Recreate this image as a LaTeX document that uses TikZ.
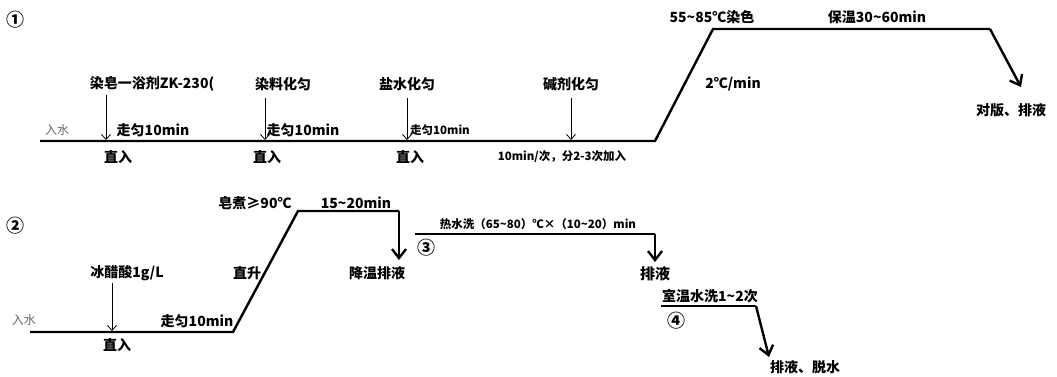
\documentclass[tikz,border=0pt]{standalone}
\usepackage{fontspec}
\setmainfont{Noto Sans CJK SC}
\usetikzlibrary{arrows.meta}

\begin{document}
\begin{tikzpicture}[x=1pt,y=-1pt,
        lab/.style={inner sep=0pt,font=\fontsize{14}{16}\selectfont\bfseries},
        small/.style={inner sep=0pt,font=\fontsize{11.5}{13}\selectfont\bfseries},
        gray/.style={inner sep=0pt,text=black!60,font=\fontsize{12}{14}\selectfont},
        num/.style={inner sep=0pt,font=\fontsize{18}{20}\selectfont\bfseries},
        proc/.style={line width=2.4pt,line join=miter},
        feed/.style={line width=0.8pt,-{Straight Barb[length=5pt,width=9pt]}},
        drain/.style={line width=2.4pt,-{Straight Barb[length=9pt,width=14pt,line width=2.4pt]}}]
        \useasboundingbox (0,0) rectangle (1057,376);
        % process 1
        \node[num](n1) at (15,20) {①};
        \coordinate(p1) at (40,141);
        \coordinate(p2) at (655,141);
        \coordinate(p3) at (713,29);
        \coordinate(p4) at (990,29);
        \coordinate(p5) at (1021,87);
        \draw[proc](p1)--(p2)--(p3)--(p4);
        \draw[drain](p4)--(p5);
        \node[gray](in1) at (57,130) {入水};
        \node[lab](d1) at (152,84) {染皂一浴剂ZK-230(};
        \node[lab](d2) at (283,84) {染料化匀};
        \node[lab](d3) at (407,84) {盐水化匀};
        \node[lab](d4) at (571,84) {碱剂化匀};
        \coordinate(a1) at (106,95);
        \coordinate(b1) at (106,140);
        \coordinate(a2) at (265,98);
        \coordinate(b2) at (265,140);
        \coordinate(a3) at (407,98);
        \coordinate(b3) at (407,140);
        \coordinate(a4) at (571,98);
        \coordinate(b4) at (571,140);
        \draw[feed](a1)--(b1);
        \draw[feed](a2)--(b2);
        \draw[feed](a3)--(b3);
        \draw[feed](a4)--(b4);
        \node[lab](w1) at (153,130) {走匀10min};
        \node[lab](w2) at (303,130) {走匀10min};
        \node[small](w3) at (440,130) {走匀10min};
        \node[lab](z1) at (118,157) {直入};
        \node[lab](z2) at (267,157) {直入};
        \node[lab](z3) at (410,157) {直入};
        \node[small](z4) at (562,157) {10min/次，分2-3次加入};
        \node[lab](t1) at (712,17) {55\textasciitilde85℃染色};
        \node[lab](t2) at (877,17) {保温30\textasciitilde60min};
        \node[lab](r1) at (733,84) {2℃/min};
        \node[lab](e1) at (1011,110) {对版、排液};
        % process 2
        \node[num](n2) at (15,226) {②};
        \coordinate(q1) at (30,332);
        \coordinate(q2) at (233,332);
        \coordinate(q3) at (298,211);
        \coordinate(q4) at (399,211);
        \coordinate(q5) at (399,260);
        \draw[proc](q1)--(q2)--(q3)--(q4);
        \draw[drain](q4)--(q5);
        \node[gray](in2) at (24,320) {入水};
        \node[lab](d5) at (127,273) {冰醋酸1g/L};
        \coordinate(a5) at (112,283);
        \coordinate(b5) at (112,331);
        \draw[feed](a5)--(b5);
        \node[lab](z5) at (117,345) {直入};
        \node[lab](w5) at (197,321) {走匀10min};
        \node[lab](s1) at (247,273) {直升};
        \node[lab](t3) at (255,203) {皂煮≥90℃};
        \node[lab](t4) at (356,203) {15\textasciitilde20min};
        \node[lab](e2) at (377,273) {降温排液};
        % process 3
        \coordinate(u1) at (415,234);
        \coordinate(u2) at (655,234);
        \coordinate(u3) at (655,262);
        \draw[proc](u1)--(u2);
        \draw[drain](u2)--(u3);
        \node[small](t5) at (538,224) {热水洗（65\textasciitilde80）℃×（10\textasciitilde20）min};
        \node[num](n3) at (426,248) {③};
        \node[lab,font=\fontsize{15}{17}\selectfont\bfseries](e3) at (655,274) {排液};
        % process 4
        \coordinate(v1) at (661,306);
        \coordinate(v2) at (756,306);
        \coordinate(v3) at (769,357);
        \draw[proc](v1)--(v2);
        \draw[drain](v2)--(v3);
        \node[lab](t6) at (710,296) {室温水洗1\textasciitilde2次};
        \node[num](n4) at (676,321) {④};
        \node[lab](e4) at (805,367) {排液、脱水};
\end{tikzpicture}
\end{document}
